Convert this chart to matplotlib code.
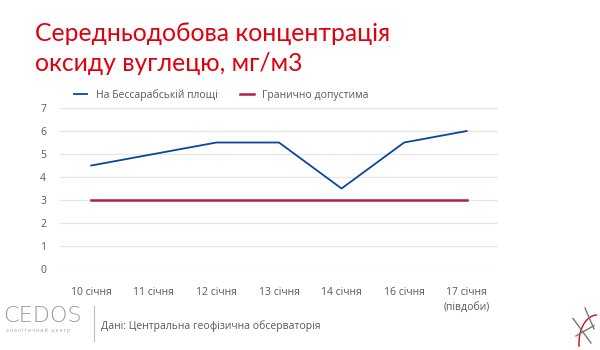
import matplotlib
matplotlib.use("Agg")
import matplotlib.pyplot as plt
from matplotlib.patches import Arc

days = ["10 січня", "11 січня", "12 січня", "13 січня", "14 січня", "16 січня", "17 січня\n(півдоби)"]
besarabska = [4.5, 5.0, 5.5, 5.5, 3.5, 5.5, 6.0]
limit_vals = [3, 3, 3, 3, 3, 3, 3]
yticks = [0, 1, 2, 3, 4, 5, 6, 7]

blue = "#0a46a0"
crimson = "#b01e4e"
title_red = "#e2000f"
grey_txt = "#595959"

plt.rcParams["font.family"] = ["Open Sans", "DejaVu Sans"]

fig = plt.figure(figsize=(6, 3.5), dpi=100)
ax = fig.add_axes([0.1, 0.2314, 0.73, 0.46])

x = list(range(len(days)))
ax.plot(x, besarabska, color=blue, linewidth=1.3, label="На Бессарабській площі")
ax.plot(x, limit_vals, color=crimson, linewidth=1.8, label="Гранично допустима")

ax.set_xlim(-0.5, len(days) - 0.5)
ax.set_ylim(0, 7)
ax.set_yticks(yticks)
ax.set_xticks(x)
ax.set_xticklabels(days, fontsize=7.5, color=grey_txt, linespacing=1.45)
ax.tick_params(axis="y", labelsize=7.5, labelcolor=grey_txt, length=0, pad=10)
ax.tick_params(axis="x", length=0, pad=13)
ax.grid(axis="y", color="#e6e6e6", linewidth=0.9)
ax.set_axisbelow(True)
for s in ax.spines.values():
    s.set_visible(False)

ax.legend(loc="lower left", bbox_to_anchor=(0.01, 0.985), ncol=2, frameon=False,
          fontsize=7.5, handlelength=1.3, columnspacing=2.2, labelcolor=grey_txt)

fig.text(0.058, 0.905, "Середньодобова концентрація", color=title_red, fontsize=17.8,
         family=["Lato", "DejaVu Sans"], va="center")
fig.text(0.058, 0.818, "оксиду вуглецю, мг/м3", color=title_red, fontsize=17.8,
         family=["Lato", "DejaVu Sans"], va="center")

# footer
fig.text(0.006, 0.097, "CEDOS", color="#9a9a9a", fontsize=16, family=["DejaVu Sans"],
         fontweight="light", va="center")
fig.text(0.01, 0.055, "а н а л і т и ч н и й   ц е н т р", color="#a0a0a0", fontsize=3.4,
         va="center")
fig.add_artist(plt.Line2D([0.157, 0.157], [0.025, 0.125], color="#bfbfbf", linewidth=0.8))
fig.text(0.168, 0.068, "Дані: Центральна геофізична обсерваторія", color=grey_txt,
         fontsize=7.5, va="center")

# corner icon (rough)
fig.add_artist(Arc((0.995, 0.02), 0.06, 0.16, theta1=90, theta2=200,
                   color="#e2000f", linewidth=1.0, transform=fig.transFigure))
fig.add_artist(plt.Line2D([0.955, 0.985], [0.09, 0.02], color="#777777", linewidth=1.0))
fig.add_artist(plt.Line2D([0.96, 0.99], [0.04, 0.07], color="#777777", linewidth=1.0))
fig.add_artist(plt.Line2D([0.975, 0.99], [0.12, 0.06], color="#777777", linewidth=1.0))

fig.savefig("out.png", dpi=100)
